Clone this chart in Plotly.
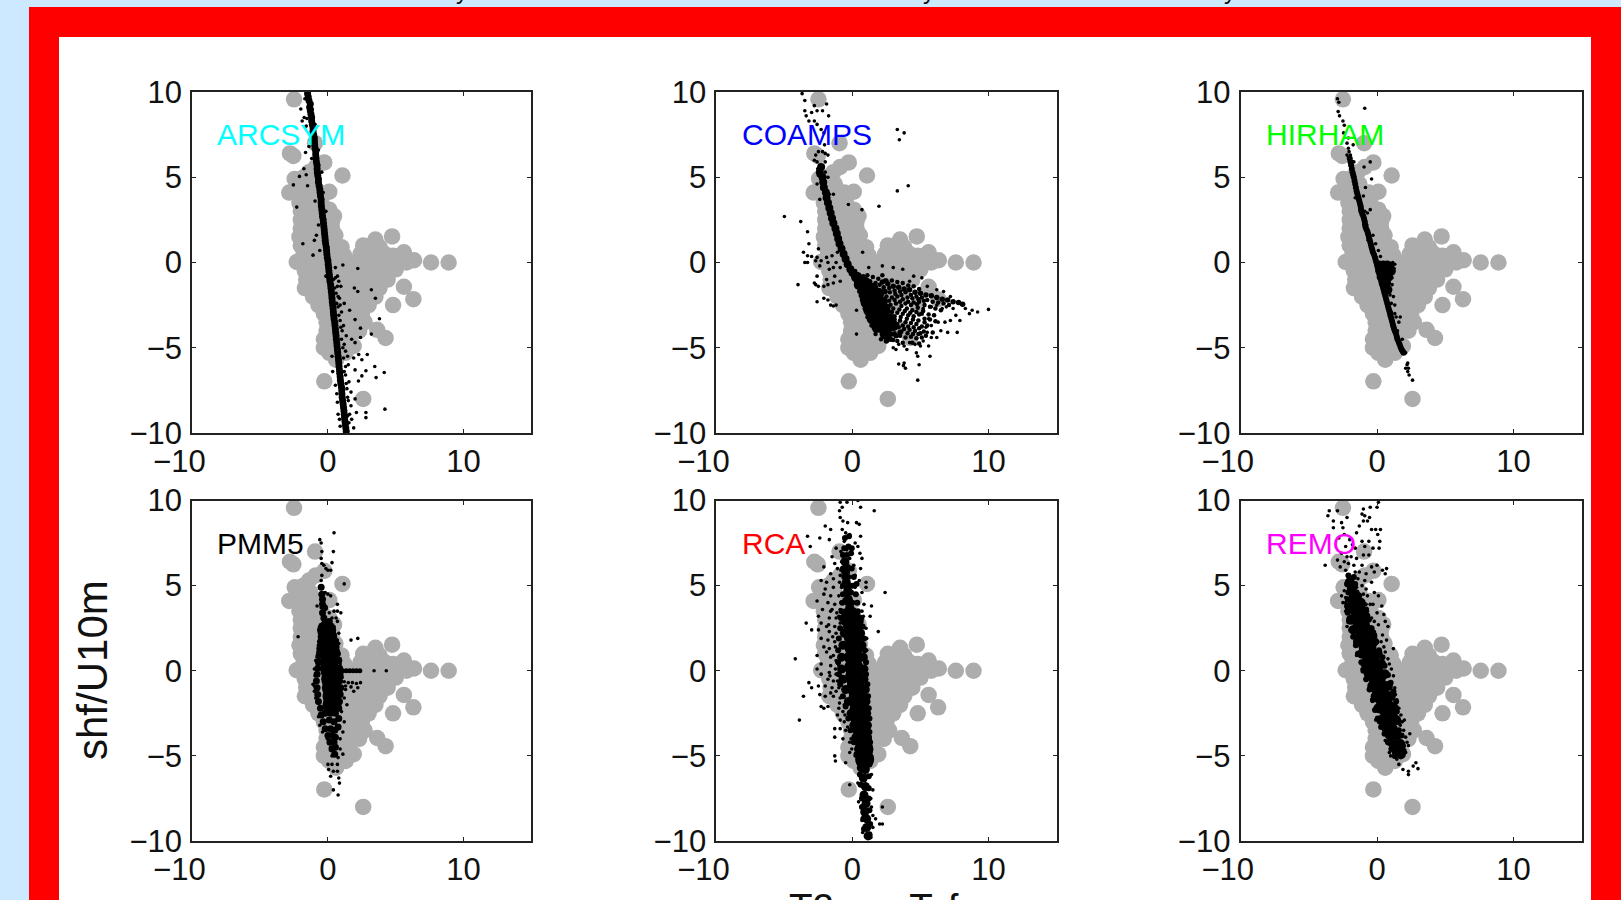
import plotly.graph_objects as go

W, H = 1621, 900
MODELS = ["ARCSYM", "COAMPS", "HIRHAM", "PMM5", "RCA", "REMO"]
LABEL_COLORS = ["#00FFFF", "#0000FF", "#00FF00", "#000000", "#FF0000", "#FF00FF"]
X_TICKS = [-10, 0, 10]
Y_TICKS = [-10, -5, 0, 5, 10]
Y_TICK_TEXT = ["\u221210", "\u22125", "0", "5", "10"]
X_TICK_TEXT = ["\u221210\u00a0\u00a0\u00a0", "0", "10"]

# Shared observations (grey discs, same in every panel)
GRAY = [(-2.5,9.57),(-0.95,7.0),(-2.8,6.4),(-2.55,6.25),(-0.27,5.87),(-0.9,5.6),(1.07,5.1),(-2.45,4.9),(-1.8,5.0),(-1.4,5.3),
(-2.85,4.1),(0.1,4.15),(0.45,2.72),(3.5,1.35),(4.73,1.53),(5.6,0.6),(6.35,0.13),(7.6,0),(8.9,0),(-2.3,0.03),
(5.6,-1.42),(6.3,-2.15),(4.8,-2.5),(3.63,-3.95),(4.25,-4.43),(0.6,-5.7),(-0.27,-6.97),(2.6,-8),
(-2.3,4.5),(-1.8,4.5),(-1.3,4.6),(-2.2,4),(-1.7,4),(-1.2,4),(-0.6,4.1),(-2.1,3.5),(-1.6,3.5),(-1,3.5),(-0.5,3.6),
(-2,3),(-1.5,3),(-1,3),(-0.4,3),(0.1,3.1),(-2,2.5),(-1.5,2.5),(-0.9,2.5),(-0.3,2.5),(0.3,2.4),(-2,2),(-1.4,2),(-0.8,2),(-0.2,2),(0.3,2),
(-2.1,1.5),(-1.5,1.5),(-0.9,1.5),(-0.3,1.5),(0.3,1.5),(0.55,1.6),(-2,1),(-1.3,1),(-0.7,1),(0,1),(0.6,1),(1,0.9),
(-1.8,0.5),(-1.1,0.5),(-0.5,0.5),(0.2,0.5),(0.8,0.5),(1.2,0.4),(-1.6,0),(-1,0),(-0.3,0),(0.4,0),(1,0),(1.6,0),(2.2,-0.1),
(-1.7,-0.5),(-1,-0.5),(-0.3,-0.5),(0.4,-0.5),(1,-0.5),(1.6,-0.5),(2.2,-0.5),(-1.6,-1),(-0.9,-1),(-0.3,-1),(0.4,-1),(1,-1),(1.6,-1),(2.2,-1),
(-1.7,-1.5),(-1,-1.5),(-0.4,-1.5),(0.3,-1.5),(0.9,-1.5),(1.5,-1.5),(2.1,-1.5),(-1.1,-2),(-0.6,-2),(0,-2),(0.6,-2),(1.2,-2),(1.8,-2),(2.4,-2),
(-0.7,-2.5),(-0.2,-2.5),(0.4,-2.5),(1,-2.5),(1.6,-2.5),(2.2,-2.5),(2.8,-2.5),(-0.3,-3),(0.3,-3),(0.9,-3),(1.5,-3),(2,-3),(2.5,-3),
(-0.1,-3.5),(0.5,-3.5),(1.1,-3.5),(1.7,-3.5),(2.3,-3.5),(2.7,-3.5),(-0.1,-4),(0.5,-4),(1.1,-4),(1.7,-4),(2.3,-4),
(-0.3,-4.5),(0.3,-4.5),(0.9,-4.5),(1.5,-4.5),(-0.3,-5),(0.3,-5),(0.9,-5),(1.5,-5),(1.9,-4.9),(0.1,-5.3),(0.7,-5.3),(1.3,-5.3),
(2.6,1),(3.2,1),(3.8,0.9),(2.4,0.5),(3,0.5),(3.6,0.5),(4.2,0.5),(4.8,0.4),(5.4,0.4),(2.8,0),(3.4,0),(4,0),(4.6,0),(5.2,0),(5.8,0),
(2.8,-0.5),(3.4,-0.5),(4,-0.5),(4.6,-0.5),(5,-0.4),(2.8,-1),(3.4,-1),(4,-1),(4.4,-1),(2.7,-1.5),(3.3,-1.5),(3.8,-1.5),(3,-2),(3.5,-2),(3,-2.5)]

ARCSYM_CORE = [(-1.5,9.9),(-1.4,9.5),(-1.35,9.1),(-1.25,8.7),(-1.2,8.3),(-1.1,7.9),(-1.05,7.5),(-1.0,7.1),(-.95,6.7),(-.9,6.3),(-.85,5.9),(-.8,5.5),(-.75,5.1),(-.7,4.7),(-.6,4.3),(-.55,3.9),(-.5,3.5),(-.45,3.1),(-.4,2.7),(-.33,2.3),(-.27,1.9),(-.22,1.5),(-.17,1.1),(-.1,.7),(-.05,.3),(.02,-.1),(.07,-.5),(.12,-.9),(.2,-1.3),(.25,-1.7),(.3,-2.1),(.35,-2.5),(.4,-2.9),(.45,-3.3),(.52,-3.7),(.57,-4.1),(.62,-4.5),(.67,-4.9),(.72,-5.3),(.78,-5.7),(.82,-6.1),(.87,-6.5),(.92,-6.9),(1,-7.3),(1.03,-7.7),(1.08,-8.1),(1.15,-8.5),(1.2,-8.9),(1.25,-9.3),(1.32,-9.7),
(-1.45,9.7),(-1.3,9.3),(-1.3,8.9),(-1.2,8.5),(-1.15,8.1),(-1.1,7.7),(-1,7.3),(-.98,6.9),(-.9,6.5),(-.88,6.1),(-.8,5.7),(-.78,5.3),(-.7,4.9),(-.65,4.5),(-.58,4.1),(-.5,3.7),(-.48,3.3),(-.42,2.9),(-.35,2.5),(-.3,2.1),(-.25,1.7),(-.2,1.3),(-.12,.9),(-.08,.5),(0,.1),(.05,-.3),(.1,-.7),(.15,-1.1),(.22,-1.5),(.28,-1.9),(.32,-2.3),(.38,-2.7),(.42,-3.1),(.5,-3.5),(.55,-3.9),(.6,-4.3),(.65,-4.7),(.7,-5.1),(.75,-5.5),(.8,-5.9),(.85,-6.3),(.9,-6.7),(.95,-7.1),(1.02,-7.5),(1.05,-7.9),(1.12,-8.3),(1.18,-8.7),(1.22,-9.1),(1.28,-9.5),(1.35,-9.9)]
ARCSYM_DOTS = [(-2,9),(-1.75,8.5),(-1.55,8.45),(-1.9,8.3),(-1.65,6.45),(-1.77,5.5),(-1.6,5.15),(-2.1,5.05),(-2.55,4.55),(-1.5,4.5),(-2.3,3.25),(-.85,1.6),(-1,1.3),(-1.85,1.1),(-.6,.7),(-1.1,.43),
(1.1,-.15),(2.2,-.35),(.7,-.8),(.95,-1.4),(1.95,-1.5),(2.2,-1.7),(3.2,-1.6),(3.5,-2.1),(1.2,-2.4),(1.6,-2.8),(3.8,-3.3),(2,-3.35),(2.4,-3.85),(3.2,-4.2),(2.4,-4.4),(1.75,-4.5),(2,-4.7),(2.27,-5.4),(2.9,-5.4),(2.5,-5.7),(1.9,-5.6),(3.45,-6.1),(2,-6.3),(4.15,-6.45),(2.8,-6.35),(2.5,-6.65),(3.55,-6.75),(2.25,-6.95),(4.2,-8.6),(2.8,-8.8),(2.8,-9.1),(2.1,-8.8),(2,-8),
(.4,-1),(.6,-1.8),(.75,-2.6),(.9,-3.4),(1.05,-4),(1.2,-4.8),(1.3,-5.2),(1.5,-6),(1.55,-7),(1.7,-7.6),(1.7,-8.4),(1.75,-9.2),(1.9,-9.7),(.9,-9.6),(.75,-8.9),(.65,-7.7),(.35,-6.4),(.3,-5.5),(-.15,-.8),(.55,-.3),(.8,-1.1),(.85,-2.1),(1,-2.9),(1.15,-3.7),(1.35,-4.3),(1.45,-5.5),(1.2,-6.4),(1.35,-7.1),(1.5,-8.1),(1.45,-9),(-1.15,9),(-1.7,9.6),(-.95,8.1),(-.7,6.6),(-1.3,7.2),(-1.2,6.1),(-.45,5.3),(-.35,4.1),(-.95,3.6),(-.15,3),(-.7,2.2),(-1.6,8),(-1.4,6.8),
(.55,-.9),(.5,-1.5),(.7,-1.4),(.75,-2),(.9,-2.5),(.65,-2.4),(.8,-3.1),(.95,-3.8),(1,-4.5),(1.1,-5),(1.15,-5.6),(1.3,-6.1),(1.3,-6.6),(1.4,-7.4),(1.45,-7.9),(.55,-7.2),(.7,-8.2),(.85,-9.2),(1.55,-9.4),(1.6,-8.9)]

COAMPS_CORE = [(-2.3,5.6),(-2.4,5.3),(-2.2,5),(-2.15,4.7),(-2.1,4.4),(-1.95,4.1),(-1.9,3.8),(-1.8,3.5),(-1.7,3.2),(-1.6,2.9),(-1.5,2.6),(-1.4,2.3),(-1.25,2),(-1.15,1.7),(-1.05,1.4),(-.95,1.1),(-.8,.8),(-.65,.5),(-.5,.2),(-.35,-.1),(-.15,-.4),(.0,-.6)]
COAMPS_BLOB = [(.3,-.85),(.6,-1.05),(.9,-1.15),(.5,-1.3),(.8,-1.5),(1.15,-1.5),(1.5,-1.5),(.85,-1.9),(1.2,-1.9),(1.6,-1.95),(1.95,-1.8),(1,-2.35),(1.4,-2.35),(1.8,-2.4),(2.2,-2.3),(1.2,-2.8),(1.6,-2.85),(2,-2.9),(2.4,-2.8),(1.45,-3.3),(1.85,-3.35),(2.3,-3.35),(2.7,-3.3),(1.8,-3.8),(2.2,-3.85),(2.6,-3.8),(3,-3.7),(2.4,-4.2)]
COAMPS_MID = [(2.2,-1.15),(2.6,-1.25),(3,-1.4),(3.4,-1.45),(3.8,-1.55),(4.2,-1.6),(4.6,-1.75),(5,-1.8),(5.4,-1.9),(5.8,-1.95),(6.2,-2.05),(6.6,-2.15),(7,-2.2),(7.4,-2.3),(7.8,-2.35),(8.1,-2.45),(2.9,-4.2),(2.5,-4.6),(2.8,-4.5),(3.2,-4.3),(3.5,-4.1),(3.2,-3.7),(2.9,-3.2),(2.6,-2.6),(2.4,-1.7)]
COAMPS_FILL = [(1.1,-.75),(1.5,-.85),(1.9,-.95),(2.2,-.75),(2.5,-1.05),(2.9,-1.05),(3.3,-1.15),(3.7,-1.2),(4.1,-1.35),(4.5,-1.4),(4.9,-1.55),
(2.3,-1.45),(2.7,-1.5),(3.1,-1.65),(3.5,-1.7),(3.9,-1.75),(4.3,-1.9),(4.7,-2),(5.1,-2.05),(5.5,-2.2),(5.9,-2.3),(6.3,-2.35),(6.7,-2.4),(7.1,-2.5),
(2.5,-2),(2.9,-2.05),(3.3,-2),(3.7,-2.15),(4.1,-2.3),(4.5,-2.35),(4.9,-2.3),(5.3,-2.5),(5.7,-2.6),(6.1,-2.7),(6.5,-2.8),
(2.8,-2.5),(3.2,-2.4),(3.6,-2.55),(4,-2.7),(4.4,-2.8),(4.8,-2.65),(5.2,-2.85),(5.6,-3.05),(6,-3.1),
(2.9,-2.9),(3.3,-2.95),(3.7,-3),(4.1,-3.1),(4.5,-3.15),(4.9,-3.05),(5.3,-3.3),(5.7,-3.35),(6.1,-3.45),
(3.1,-3.35),(3.5,-3.4),(3.9,-3.5),(4.3,-3.55),(4.7,-3.6),(5.1,-3.75),(5.5,-3.7),(5.9,-4.1),
(3.4,-3.8),(3.8,-3.9),(4.2,-3.95),(4.6,-4),(5,-4.15),(5.4,-4.3),(3.1,-4.15),(3.5,-4.3),(3.9,-4.4),(4.3,-4.35),(4.7,-4.45),(5.1,-4.4),
(2.7,-4.35),(3,-4.55),(3.3,-4.6),(3.7,-4.7),(4.4,-4.7),(4.9,-4.75),(2.4,-1.05),(1.7,-1.2),(2,-1.3),(1.3,-1.1),(.2,-.5),(.5,-.75),(.8,-.8),(1.1,-1.05),(.3,-1.15),(.5,-1.7),(.7,-2.2),(.9,-2.7),(1.1,-3.2),(1.4,-3.7),(1.7,-4.2),(2.1,-4.5),
(2.75,-1.75),(3.15,-1.85),(3.6,-1.9),(4.05,-2.05),(4.4,-2.1),(4.85,-2.15),(5.25,-2.25),(2.7,-2.25),(3.1,-2.2),(3.5,-2.3),(3.9,-2.4),(4.3,-2.5),(4.75,-2.45),(3,-2.7),(3.45,-2.75),(3.85,-2.85),(4.25,-2.95),(4.7,-2.9),(5.1,-3),(3.1,-3.15),(3.55,-3.2),(4,-3.3),(4.45,-3.35),(4.85,-3.4),(5.3,-3.5),(3.3,-3.6),(3.7,-3.7),(4.1,-3.75),(4.5,-3.8),(4.9,-3.85),(3.6,-4.05),(4.05,-4.15),(4.45,-4.2),(4.85,-4.2),(5.25,-4.05)]
COAMPS_DOTS = [(-3.7,9.9),(-3.5,9.5),(-2.8,9.2),(-1.9,9.3),(-2.2,8.9),(-3.5,8.9),(-3.4,8.6),(-3,8.8),(-2.6,8.9),(-1.75,8.6),(-3.2,8.3),(-2.8,8.3),(-2.6,8.1),(-2.1,7.6),(-2.3,7.8),(-2.05,6.9),(-2,6.4),(-2.5,6.5),(-2.2,6.5),(-1.8,6.3),(-2.7,6.3),(-2.8,6),(-2.6,5.9),(-2,5.9),(-2.55,5.5),(-2,5.3),(-1.8,5),(-2.5,5.1),(-2.6,4.6),(-2.4,3.7),(-1.7,4),(-1.4,4),(-.3,3.4),(.7,3.1),(-5,2.7),(-3.8,2.4),(-3.3,1.8),(-3.2,1.1),(-2.5,.8),(-3.6,.6),(-3.3,.4),(-3,.35),(-2.6,.3),(-3.5,0),(-3.3,0),(-2.7,.1),(-2.3,.1),(-1.9,.3),(-1.5,.4),(-1.1,.6),(-1.8,0),(-1.2,0),(-2.4,-.2),(-1.7,-.4),(-1.4,-.3),(-.9,-.3),(-2.6,-.8),(-1.3,-.8),(-1.9,-1),(-2.8,-1.2),(-4,-1.3),(-2.7,-1.3),(-2.5,-1.4),(-2.1,-1.4),(-1.8,-1.3),(-1.4,-1.2),(-.9,-1.1),(-2.6,-2.3),(-2.1,-2.1),(-1.8,-2.2),(-1.6,-2.5),(-1.4,-2.55),(-1.2,-2.5),(.3,-2.8),(.3,-4.2),
(3.3,7.8),(3.8,7.6),(3.45,7.2),(4.1,4.5),(3.3,4.2),(1.95,3.3),(.75,.6),(1.2,-.3),(2.2,-.2),(3,-.3),(3.7,-.4),(4.5,-.8),(4.2,-1.1),(5.1,-.9),(5.5,-1.4),(6.2,-1.6),(6.7,-1.7),(7.2,-2),(8.3,-2.7),(8.8,-2.8),(9.2,-2.9),(10,-2.75),(8.6,-3),(7.6,-3.1),(7.9,-3.4),(7.2,-3.4),(6.8,-3.5),(7.7,-4.1),(7,-4.1),(6.5,-4),(6.3,-3.5),(6.2,-4.4),(5.8,-3.7),(5.4,-3.8),(5.5,-4.1),(5.8,-4.4),(5.2,-4.6),(5.6,-4.9),(5,-4.9),(4.6,-4.8),(4.2,-4.7),(3.8,-4.9),(3.4,-4.8),(3,-5),(3.2,-5.1),(4,-5.1),(4.7,-5.3),(5.7,-5.5),(4.8,-5.5),(3.4,-5.95),(3.8,-5.9),(3.9,-6.2),(3.75,-6.05),(4.9,-6),(4.8,-6.9),(6,-3.1),(5.6,-3.3),(5.2,-2.7),(5.8,-2.6),(6.2,-2.5),(6.6,-2.7),(6.9,-2.6),(7.4,-2.7)]

HIRHAM_CORE = [(-2,6.1),(-1.9,5.7),(-1.8,5.3),(-1.7,5),(-1.6,4.6),(-1.5,4.2),(-1.4,3.9),(-1.3,3.6),(-1.2,3.3),(-1.15,3),(-1,2.7),(-.9,2.4),(-.85,2.1),(-.7,1.8),(-.6,1.5),(-.5,1.2),(-.4,.9),(-.3,.6),(-.15,.3),(-.05,0),(.05,-.3),(.15,-.6),(.25,-.9),(.35,-1.2),(.45,-1.5),(.55,-1.8),(.65,-2.1),(.75,-2.4),(.85,-2.7),(.95,-3),(1.05,-3.3),(1.15,-3.6),(1.25,-3.9),(1.4,-4.2),(1.5,-4.5),(1.65,-4.8),(1.8,-5.1),(1.95,-5.3),
(-1.95,5.9),(-1.85,5.5),(-1.75,5.15),(-1.65,4.8),(-1.55,4.4),(-1.45,4.05),(-1.35,3.75),(-1.25,3.45),(-1.18,3.15),(-1.08,2.85),(-.95,2.55),(-.88,2.25),(-.78,1.95),(-.65,1.65),(-.55,1.35),(-.45,1.05),(-.35,.75),(-.22,.45),(-.1,.15),(0,-.15),(.1,-.45),(.2,-.75),(.3,-1.05),(.4,-1.35),(.5,-1.65),(.6,-1.95),(.7,-2.25),(.8,-2.55),(.9,-2.85),(1,-3.15),(1.1,-3.45),(1.2,-3.75),(1.32,-4.05),(1.45,-4.35),(1.58,-4.65),(1.72,-4.95),(1.88,-5.2)]
HIRHAM_BLOB = [(.15,-.15),(.45,-.15),(.75,-.15),(.95,-.2),(.2,-.5),(.5,-.5),(.8,-.5),(1.05,-.5),(.3,-.85),(.6,-.85),(.85,-.85),(.45,-1.2),(.7,-1.2),(.6,-1.55),(.8,-1.6)]
HIRHAM_DOTS = [(-2.9,9.6),(-2.8,9.4),(-.9,9.05),(-2.85,8.85),(-2.75,8.6),(-2.5,8.3),(-2.4,8.05),(-2.45,7.6),(-2.1,7.3),(-2.2,7),(-1.75,6.9),(-2.1,6.7),(-2.05,6.5),(-2.2,6.3),(-1.95,6.3),(-.5,5.9),(-.95,5.6),(-.4,4.9),(-.85,4.4),(-.5,3.1),(-.7,2.9),(-.75,2.2),(-.3,1.6),(-.1,1.1),(.1,.7),(.25,.35),(1.15,0),(1.3,-.1),(1.25,-.35),(1.1,-.9),(1.1,-1.3),(1.2,-2),(1.3,-2.5),(1.4,-3.2),(1.7,-3.2),(1.6,-3.5),(1.3,-3),(.95,-1.9),(1.05,-2.4),(1.85,-4.5),(2.1,-5.3),(2.25,-5.9),(2.2,-6),(2.3,-6.2),(2.1,-6.2),(2.25,-6.4),(2.35,-6.6),(2.6,-6.9),(-1.6,3.8),(-1,3.9),(-.65,1.3),(.35,-.05),(-.9,3),(-1.7,5.9),(1.05,-2.9),(1.5,-4)]

PMM5_CORE = [(-.1,2.4),(0,1.9),(.05,1.4),(.1,1),(.1,.5),(.15,0),(.2,-.5),(.25,-1),(.3,-1.5),(.3,-2)]
PMM5_FILL = [(-.4,3.4),(-.3,3.1),(-.2,2.8),(.1,2.9),(-.45,2.6),(-.3,2.3),(.35,2.4),(-.5,2),(.4,2.1),(-.55,1.7),(.55,1.7),(-.6,1.3),(.6,1.4),(-.65,.9),(.7,1),(-.7,.5),(.8,.6),(-.75,.15),(.85,.15),(-.8,-.2),(.9,-.25),(-.85,-.6),(.85,-.6),(-.8,-1),(.95,-1),(-.75,-1.4),(.9,-1.4),(-.7,-1.8),(.85,-1.8),(-.55,-2.2),(.8,-2.2),(-.5,-2.6),(-.2,-2.5),(.2,-2.5),(.55,-2.5),(.8,-2.8),(-.35,-3),(.1,-2.9),(.45,-3),(.75,-3.3),(-.2,-3.4),(.2,-3.4),(.5,-3.5),(0,-3.8),(.3,-3.8),(.55,-3.9),(.15,-4.2),(.45,-4.2),(.3,-4.6),(.55,-4.5),(.5,-4.9),
(-.4,3.9),(-.25,3.7),(-.45,4.5),(-.4,4.2),(-.5,4.9)]
PMM5_BAR = [(.85,0),(1.1,0),(1.35,0),(1.6,0),(1.85,0),(2.1,0),(2.35,0)]
PMM5_DOTS = [(.45,8.1),(-.6,7.7),(-.5,7.5),(.4,7),(-.45,7),(-.5,6.6),(-.45,6.3),(.3,6.35),(-.3,6.2),(-.15,6),(0,5.9),(.2,5.9),(-.45,5.6),(-.5,5.3),(1.2,5.1),(-.45,4.9),(-.2,4.6),(0,4.5),(.2,4.4),(-.5,4.2),(-.8,3.8),(-.5,3.7),(.7,3.5),(.95,3.4),(.6,3.1),(.3,3.1),(.7,2.9),(.45,2.6),(-.65,2.4),(.8,2.2),(-2.2,2),(.7,1.8),(1.7,1.8),(2.2,1.9),(-.7,1.5),(.6,1.3),(-.8,.8),(-.9,.6),(.9,.4),(3.4,0),(4.3,0),(2.4,-.7),(2.2,-1),(1.9,-1.2),(1.3,-1.1),(-1.1,-.8),(-1,-1.2),(-.9,-1.6),(-.7,-1.9),(-.6,-2.1),(-.7,-2.7),(1.2,-1.6),(1.4,-2),(1,-2.4),(-.6,-3.2),(1.2,-3),(-.4,-3.6),(1.1,-3.6),(-.05,-4),(.9,-4),(.2,-4.5),(.9,-4.6),(.3,-5),(.75,-5.1),(1.1,-4.9),(0,-5.5),(.3,-5.5),(.7,-5.5),(.05,-5.8),(.4,-5.9),(.7,-5.9),(.2,-6.2),(.8,-6.3),(.85,-6.6),(.4,-7),(.75,-7.3),
(.95,-.65),(1.2,-.65),(1.5,-.7),(1.8,-.7),(2.1,-.75),(1.05,-.4),(1.3,-.9),(1.7,-.95),(1,-1.3),(.95,.2),(.9,.7),(.75,1.2),(.8,1.6),(-.75,1.1),(-.75,.6),(-1,.1),(-.95,-.3),(-1,-.9),(.7,3.9),(.45,3.5),(.1,3.4)]

RCA_CORE = [(-.1,3.2),(0,2.6),(.05,2),(.1,1.4),(.1,.8),(.1,.2),(.15,-.4),(.25,-1),(.4,-1.6),(.5,-2.2),(.55,-2.8),(.65,-3.4),(.75,-4),(.85,-4.6),(.9,-5.2)]
RCA_MID = [(-.55,6.4),(-.5,5.8),(-.45,5.2),(-.35,4.7),(-.3,4.2),(-.2,3.7),(-.55,2.9),(.5,2.9),(-.6,2.2),(.6,2.2),(-.7,1.5),(.7,1.5),(-.8,.8),(.8,.8),(-.8,.1),(.85,.1),(-.7,-.5),(.85,-.5),(-.5,-1.1),(.95,-1.1),(-.3,-1.8),(1,-1.8),(-.1,-2.5),(1.05,-2.5),(.1,-3.2),(1.1,-3.2),(.25,-3.9),(1.1,-3.9),(.45,-4.6),(1.15,-4.6),(.65,-5.7),(.95,-5.8),(.8,-6.3),(.95,-6.8),(.85,-7.3),(1,-7.8),(.9,-8.3),(1.05,-8.7),(1.05,-9.2),(1.15,-9.7)]
RCA_FILL = [(-.55,7.8),(-.25,7.9),(-.6,7.2),(-.3,7.3),(-.05,7.2),(-.7,6.8),(-.4,6.8),(-.1,6.9),(-.7,6),(-.35,6.1),(-.05,6),(-.6,5.5),(-.3,5.5),(.1,5.5),(-.7,5),(-.3,5),(0,5),(.3,5.1),(-.7,4.5),(-.4,4.5),(-.1,4.6),(.25,4.5),(-.75,4),(-.4,4),(0,4),(.35,4),(-.8,3.5),(-.5,3.5),(-.1,3.5),(.4,3.5),(-.85,3.1),(.65,3.1),(-.9,2.5),(.75,2.6),(-1,1.9),(.85,1.9),(-1.05,1.2),(.9,1.2),(-1.05,.5),(1,.5),(-1,-.2),(1,-.2),(-.9,-.8),(1.1,-.8),(-.7,-1.5),(1.15,-1.5),(-.5,-2.1),(1.2,-2.2),(-.3,-2.8),(1.25,-2.8),(-.15,-3.5),(1.25,-3.6),(.1,-4.2),(1.3,-4.2),(.3,-4.9),(1.3,-5),(.5,-5.4),(1.25,-5.5),(.55,-6.1),(1.2,-6.2),(.6,-6.7),(1.2,-6.9),(.7,-7.5),(1.2,-7.5),(.7,-8),(1.25,-8.2),(.8,-8.7),(1.3,-9),(.85,-9.3),(1.25,-9.6)]
RCA_DOTS = [(-.9,9.9),(-.4,9.9),(.4,10),(-.95,9.4),(-.75,9.6),(.6,9.6),(1.6,9.4),(-.9,9),(-.7,8.8),(-.35,8.7),(.3,8.7),(.5,8.6),(-2,8.5),(-1.6,8.3),(-.75,8.3),(-.5,8.1),(-.2,8),(.6,7.9),(-3.3,7.9),(-2.4,7.8),(-1.7,7.7),(-.6,7.6),(.2,7.5),(.4,7.3),(-3.1,7.3),(-1.2,7.2),(-.4,7.1),(.55,6.9),(-1.5,6.7),(.7,6.6),(-.8,6.4),(-.2,6.6),(.1,6.2),(.6,6),(-2.1,6.1),(-1.1,6),(-1.6,5.7),(-.9,5.6),(.2,5.6),(-1.4,5.4),(-2.3,5.3),(-1.9,5.2),(.5,5.3),(1,5.2),(2.4,4.6),(-2,4.8),(-1.4,4.9),(-.8,4.9),(.2,4.9),(.7,4.6),(1,4.9),(-2.1,4.5),(-1.6,4.4),(-1,4.4),(-.6,4.2),(-2.6,4.1),(-1.8,4),(-1.3,3.9),(.4,4),(.85,3.9),(1.4,3.8),(-2.2,3.6),(-1.6,3.5),(-.9,3.6),(.7,3.5),(-2.5,3.2),(-1.7,3.1),(-1.2,3.1),(-.7,3.3),(.8,3.2),(1.3,3.2),(-3.4,2.8),(-2.3,2.8),(-1.9,2.6),(-1.3,2.6),(-.9,2.8),(-3,2.4),(-2.5,2.4),(-1.7,2.3),(-1.2,2.2),(1,2.5),(1.9,2.3),(-2.3,1.9),(-1.8,1.8),(-1.3,1.7),(1.05,1.9),(-2.1,1.4),(-1.7,1.3),(-1.1,1.2),(1.05,1.2),(-4.2,.7),(-2.6,.9),(-1.6,.8),(-1.2,.6),(1,.6),(-2.3,.4),(-1.6,.3),(-1,.3),(-2.6,.1),(-2.3,-.2),(-1.7,-.1),(-1.2,-.2),(-1.8,-.5),(-1.4,-.6),(-3.2,-.7),(-3,-1),(-2.5,-.9),(-2,-.9),(-1.5,-1),(-1,-1),(-3.6,-1.5),(-2.4,-1.4),(-2,-1.5),(-1.4,-1.5),(-.9,-1.6),(-2.3,-2.1),(-2.1,-2.2),(-1.8,-2.1),(-1,-2.2),(-.7,-2.4),(-3.9,-2.9),(-.9,-2.9),(-.6,-3),(-1.3,-3.4),(-.9,-3.4),(-.5,-3.5),(-1.3,-3.9),(-.7,-4),(-.2,-4.2),(-1.3,-5),(-1.25,-5.3),(-.5,-5.4),(-.2,-4.8),(.2,-5),(1.3,-5.5),(1.4,-6.1),(1.5,-7),(1.35,-7.5),(1.4,-8),(.4,-6.6),(-.2,-6.7),(.45,-7.7),(1.5,-8.5),(1.7,-8.7),(2,-9),(2.2,-9),(1.5,-9.2),(2.2,-8),(.7,-8.8),(.75,-9.5),(1.35,-9.8),
(-1.5,3.6),(-1.15,3.4),(-1.75,2.7),(-1.45,2),(-1.25,1.4),(-1.9,1.1),(-1.4,.9),(-1.25,.1),(-1.65,-.3),(-1.1,-.6),(-1.2,-1.2),(-1.6,-1.3),(-.95,-1.9),(-1.1,-2.6),(-.6,-2),(-.55,-2.6),(-.35,-3.3),(-.1,-4),(-.05,-4.6),(-.85,4),(-.95,5.2),(-.85,5.9),(-1.3,6.3),(-.85,7),(-1,3.2)]

REMO_CORE = [(-1.55,3.8),(-1.3,3.2),(-1.15,2.6),(-.95,2),(-.7,1.4),(-.45,.8),(-.2,.2),(0,-.4),(.2,-1),(.45,-1.6),(.7,-2.2),(.9,-2.8)]
REMO_MID = [(-2,5.2),(-1.85,4.8),(-1.7,4.4),(-2,3.7),(-1.2,4),(-1.9,3),(-.85,3.2),(-1.7,2.4),(-.55,2.4),(-1.4,1.7),(-.25,1.7),(-1.1,1),(.05,1),(-.85,.4),(.3,.4),(-.6,-.2),(.55,-.2),(-.35,-.9),(.8,-.9),(-.1,-1.5),(1,-1.5),(.1,-2.2),(1.25,-2.2),(.3,-2.9),(1.4,-2.9),(.7,-3.4),(1.15,-3.4),(.95,-3.8),(1.45,-3.8),(1.2,-4.3),(1.7,-4.3),(1.5,-4.7),(1.75,-4.9)]
REMO_FILL = [(-2.1,5.6),(-1.7,5.5),(-2.2,5.1),(-1.6,5.1),(-2.1,4.6),(-1.5,4.6),(-2.15,4.2),(-1.3,4.4),(-2.2,3.8),(-1,3.9),(-2.15,3.4),(-.8,3.6),(-2.05,2.9),(-.6,3),(-1.9,2.4),(-.4,2.5),(-1.75,2),(-.2,2.1),(-1.55,1.5),(-.05,1.7),(-1.4,1),(.15,1.2),(-1.15,.5),(.4,.8),(-1,0),(.55,.3),(-.8,-.5),(.8,-.25),(-.55,-1.1),(1,-.7),(-.3,-1.7),(1.2,-1.2),(-.15,-2.3),(1.4,-1.8),(.05,-2.8),(1.45,-2.4),(.3,-3.3),(1.6,-3),(.55,-3.7),(1.6,-3.5),(.8,-4.2),(1.8,-3.8),(1.05,-4.6),(1.9,-4.4),(1.3,-5),(1.95,-4.7)]
REMO_DOTS = [(-3.5,9.4),(-2.9,9.4),(-1,9.5),(-.5,9.6),(0,9.6),(.1,9.9),(-3.6,9.1),(-1.1,9.2),(-.9,9.1),(-.55,9),(-3.2,8.8),(-2.6,8.7),(-2.2,9),(-1,8.8),(-.7,8.8),(-3.2,8.4),(-2.5,8.4),(-1.3,8.5),(-.4,8.3),(-.1,8.3),(.25,8.3),(-2.4,8),(-1.5,8.1),(.05,8),(-2.8,7.8),(-2,7.7),(-1.8,7.4),(-1.1,7.6),(-.6,7.6),(.2,7.6),(-2.3,7.3),(-1.6,7.2),(-.9,7.3),(-.3,7.2),(.15,7.2),(-2.6,6.9),(-2.9,6.5),(-2.2,6.7),(-1.5,6.6),(-1,6.8),(-.6,6.8),(-2.7,6.1),(-2.1,6.3),(-1.7,6.2),(-1.1,6.2),(-.4,6.1),(0,6.2),(.7,6),(-3.8,6.2),(-2.3,5.9),(-1.6,5.8),(-.8,5.7),(-.2,5.8),(.4,5.9),(.6,5.7),(-2.1,5.5),(-1.4,5.4),(-.9,5.3),(-.4,5.2),(-2.2,5),(-1.5,4.9),(-.8,4.8),(-.2,4.6),(-2.6,4.4),(-2.3,4.3),(-1.3,4.5),(-.7,4.4),(.1,4.4),(-2.5,4),(-.8,3.9),(-.3,3.9),(.35,3.8),(-2.3,3.5),(-.7,3.5),(0,3.4),(.5,3.3),(.6,2.9),(-2.1,3.1),(-2.2,2.6),(-.2,2.9),(.1,2.7),(.8,2.6),(-.2,2.3),(.4,2.1),(.7,1.8),(1.2,1.3),(.5,1.4),(.8,.7),(1.05,.1),(1.2,-.3),(-1.5,.9),(-1.1,.1),(-.85,-.5),(1.3,-1),(1.45,-1.7),(-.35,-1.8),(1.75,-2.6),(2,-2.9),(-.1,-2.9),(1.7,-3.2),(.5,-3.7),(.85,-4.3),(2.4,-3.7),(2.2,-4.2),(2.3,-4.4),(.9,-4.8),(1.2,-4.8),(2.1,-4.8),(1.75,-5.1),(1.45,-5.2),(1.6,-5.5),(1.9,-5.8),(2.3,-5.9),(2.65,-5.6),(2.85,-5.4),(3,-5.75),(2.3,-6.1),
(-1.9,6.7),(-2.4,6.4),(-1.3,5.8),(-1.1,5),(-2.4,4.7),(-1,4.5),(-.5,3.9),(-.4,3.1),(-2.3,4),(-.1,2),(.3,1.7),(.6,1.1),(.9,.4),(1.35,-1.4),(1.6,-2.2),(1.85,-3),(1.95,-3.5),(2.1,-3.9),(.6,-4.1),(1,-5)]

PANELS = {
    "ARCSYM": [(ARCSYM_DOTS, 3.6), (ARCSYM_CORE, 7)],
    "COAMPS": [(COAMPS_DOTS, 3.6), (COAMPS_FILL, 4.5), (COAMPS_MID, 5.5), (COAMPS_CORE, 8), (COAMPS_BLOB, 11)],
    "HIRHAM": [(HIRHAM_DOTS, 3.6), (HIRHAM_CORE, 6), (HIRHAM_BLOB, 9)],
    "PMM5": [(PMM5_DOTS, 3.6), (PMM5_FILL, 7), (PMM5_BAR, 5), (PMM5_CORE, 19)],
    "RCA": [(RCA_DOTS, 3.6), (RCA_FILL, 6), (RCA_MID, 9), (RCA_CORE, 19)],
    "REMO": [(REMO_DOTS, 3.6), (REMO_FILL, 6), (REMO_MID, 10), (REMO_CORE, 18)],
}

COLS = [(192.3, 531.4), (716.4, 1056.5), (1240.6, 1581.7)]
ROWS = [(92, 433), (500.5, 841)]
FONT = "Liberation Sans"
AX = dict(showgrid=False, zeroline=False, showline=True, mirror="ticks", linecolor="#222222", linewidth=2, automargin=False,
          ticks="inside", ticklen=4, tickcolor="#222222", tickwidth=1, tickfont=dict(family=FONT, size=31, color="#111111"))

fig = go.Figure()
layout = dict(template="none", width=W, height=H, margin=dict(l=0, r=0, t=0, b=0, pad=0), autosize=False, showlegend=False,
              paper_bgcolor="#CCE9FF", plot_bgcolor="#FEFFFE", font=dict(family=FONT))
annots = []
for i, m in enumerate(MODELS):
    n = "" if i == 0 else str(i + 1)
    c = COLS[i % 3]
    r = ROWS[i // 3]
    layout["xaxis" + n] = dict(AX, domain=[c[0] / W, c[1] / W], range=[-10, 15], tickmode="array", tickvals=X_TICKS,
                               ticktext=X_TICK_TEXT, anchor="y" + n, fixedrange=True)
    layout["yaxis" + n] = dict(AX, domain=[1 - r[1] / H, 1 - r[0] / H], range=[-10, 10], tickmode="array", tickvals=Y_TICKS,
                               ticktext=Y_TICK_TEXT, anchor="x" + n, fixedrange=True, ticklabelstandoff=2)
    fig.add_trace(go.Scatter(x=[p[0] for p in GRAY], y=[p[1] for p in GRAY], mode="markers", xaxis="x" + n, yaxis="y" + n,
                             marker=dict(size=16.5, color="#ADADAD", line=dict(width=0))))
    for pts, size in PANELS[m]:
        fig.add_trace(go.Scatter(x=[p[0] for p in pts], y=[p[1] for p in pts], mode="markers", xaxis="x" + n, yaxis="y" + n,
                                 marker=dict(size=size, color="#000000", line=dict(width=0))))
    annots.append(dict(text=m, x=-8.3, y=7.5, xref="x" + n, yref="y" + n, xanchor="left", yanchor="middle", showarrow=False,
                       font=dict(family=FONT, size=30, color=LABEL_COLORS[i])))

annots.append(dict(text="shf/U10m", x=92 / W, y=1 - 670 / H, xref="paper", yref="paper", textangle=-90, showarrow=False,
                   xanchor="center", yanchor="middle", font=dict(family=FONT, size=42, color="#111111")))
annots.append(dict(text="T2m \u2212 Tsfc", x=884 / W, y=1 - 907 / H, xref="paper", yref="paper", showarrow=False,
                   xanchor="center", yanchor="middle", font=dict(family=FONT, size=38.5, color="#111111")))
for px in (462, 929, 1230):
    annots.append(dict(text="y", x=px / W, y=1 + 10 / H, xref="paper", yref="paper", showarrow=False,
                       xanchor="center", yanchor="middle", font=dict(family=FONT, size=24, color="#111111")))

layout["annotations"] = annots
layout["shapes"] = [
    dict(type="rect", xref="paper", yref="paper", x0=29 / W, x1=1, y0=0, y1=1 - 7 / H, fillcolor="#FF0000", line=dict(width=0), layer="below"),
    dict(type="rect", xref="paper", yref="paper", x0=59 / W, x1=1591 / W, y0=0, y1=1 - 37 / H, fillcolor="#FEFFFE", line=dict(width=0), layer="below"),
]
fig.update_layout(**layout)
fig.write_html("out.html", post_script="document.body.style.margin='0';document.body.style.overflow='hidden';",
               config={"displayModeBar": False})
